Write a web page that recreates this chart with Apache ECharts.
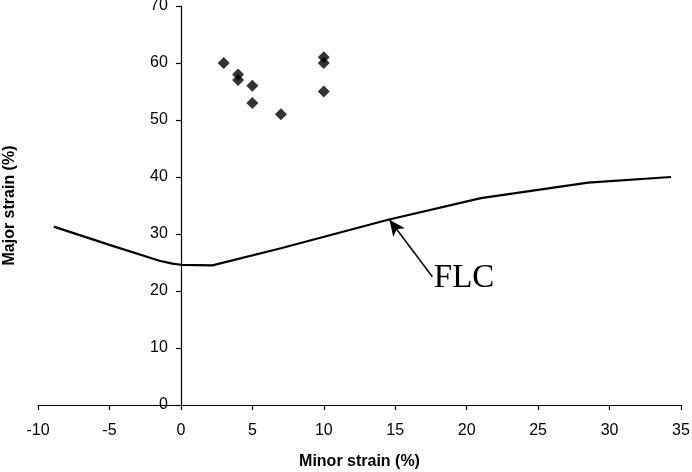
<!DOCTYPE html>
<html>
<head>
<meta charset="utf-8">
<script src="https://cdn.jsdelivr.net/npm/echarts@6/dist/echarts.min.js"></script>
<style>
  html, body { margin: 0; padding: 0; background: #fff; }
  #chart { width: 692px; height: 472px; }
</style>
</head>
<body>
<div id="chart"></div>
<script>
// Forming limit curve (minor strain %, major strain %)
const flcMinor = [-8.9, -5, -1.5, -0.6, 0, 2.2, 7, 14.5, 21, 28.5, 34.3];
const flcMajor = [31.3, 28.1, 25.3, 24.8, 24.6, 24.5, 27.5, 32.5, 36.3, 39, 40];

// Measured strains
const testMinor = [3, 4, 4, 5, 5, 7, 10, 10, 10];
const testMajor = [60, 58, 57, 56, 53, 51, 61, 60, 55];

// Axis ranges
const xRange = [-10, 35, 5];
const yRange = [0, 70, 10];

// "FLC" callout: arrow from the label to the curve
const calloutTail = [17.6, 22.5];
const calloutTip = [14.6, 32.5];
const calloutText = 'FLC';
const calloutTextAt = [17.7, 22.3];

const axisFont = { fontFamily: 'Liberation Sans, Arial, sans-serif', fontSize: 16, color: '#000' };
const titleFont = { fontFamily: 'Liberation Sans, Arial, sans-serif', fontSize: 16, fontWeight: 'bold', color: '#000' };

// Plot box
const W = 692, H = 472;
const gridBox = { left: 38, right: 11, top: 6, bottom: 67 };
const plotW = W - gridBox.left - gridBox.right;
// The vertical axis crosses at minor strain = 0; its labels sit just left of it
const zeroOffset = (0 - xRange[0]) / (xRange[1] - xRange[0]) * plotW;

const chart = echarts.init(document.getElementById('chart'));
chart.setOption({
  backgroundColor: '#fff',
  animation: false,
  grid: Object.assign({ containLabel: false, outerBoundsMode: 'none' }, gridBox),
  xAxis: {
    type: 'value',
    min: xRange[0], max: xRange[1], interval: xRange[2],
    name: 'Minor strain (%)',
    nameLocation: 'middle',
    nameGap: 49,
    nameTextStyle: titleFont,
    axisLine: { onZero: true, lineStyle: { color: '#000', width: 1.2 } },
    axisTick: { show: true, length: 5, lineStyle: { color: '#000', width: 1.2 } },
    axisLabel: Object.assign({ margin: 18 }, axisFont),
    splitLine: { show: false }
  },
  yAxis: {
    type: 'value',
    min: yRange[0], max: yRange[1], interval: yRange[2],
    name: 'Major strain (%)',
    nameLocation: 'middle',
    nameGap: 20,
    nameTextStyle: titleFont,
    axisLine: { onZero: true, lineStyle: { color: '#000', width: 1.2 } },
    axisTick: { show: true, length: 5, lineStyle: { color: '#000', width: 1.2 } },
    axisLabel: Object.assign({ margin: 13 - zeroOffset, padding: [5, 0, 0, 0] }, axisFont),
    splitLine: { show: false }
  },
  series: [
    {
      type: 'line',
      data: flcMinor.map((x, i) => [x, flcMajor[i]]),
      showSymbol: false,
      symbol: 'none',
      lineStyle: { color: '#000', width: 2.2 },
      z: 3,
      markLine: {
        silent: true,
        symbol: ['none', 'arrow'],
        symbolSize: [11, 16],
        lineStyle: { color: '#000', width: 1.5, type: 'solid' },
        label: { show: false },
        data: [[
          { coord: calloutTail },
          { coord: calloutTip }
        ]]
      },
      markPoint: {
        silent: true,
        symbol: 'circle',
        symbolSize: 0,
        label: {
          show: true,
          position: 'inside',
          align: 'left',
          verticalAlign: 'middle',
          formatter: calloutText,
          fontFamily: 'Liberation Serif, Times New Roman, serif',
          fontSize: 33,
          color: '#000'
        },
        data: [{ coord: calloutTextAt }]
      }
    },
    {
      type: 'scatter',
      data: testMinor.map((x, i) => [x, testMajor[i]]),
      symbol: 'diamond',
      symbolSize: 12,
      itemStyle: { color: '#000' },
      z: 4
    }
  ]
});
</script>
</body>
</html>
